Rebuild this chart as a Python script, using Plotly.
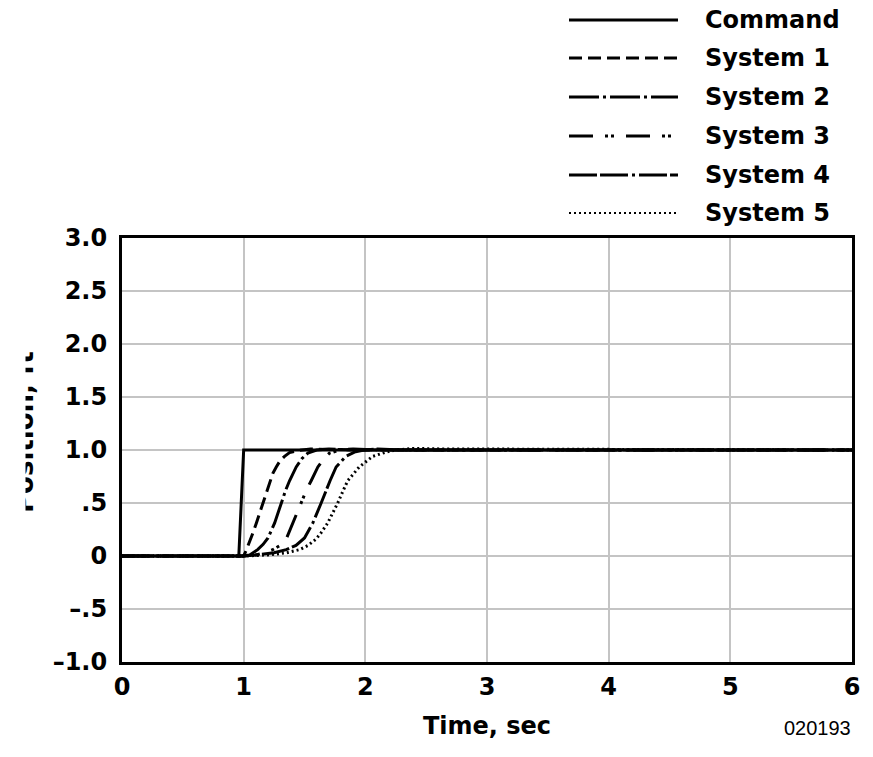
import plotly.graph_objects as go

# ---- data ----
cmd_t = [0.0, 0.96, 1.0, 6.0]
cmd_v = [0.0, 0.0, 1.0, 1.0]

s1_t = [0.0, 1.0, 1.02, 1.055, 1.08, 1.104, 1.13, 1.158, 1.185, 1.213, 1.24, 1.268, 1.30, 1.336, 1.377, 1.45, 1.55, 1.7, 2.0, 6.0]
s1_v = [0.0, 0.0, 0.05, 0.15, 0.23, 0.31, 0.40, 0.50, 0.61, 0.70, 0.78, 0.84, 0.90, 0.94, 0.975, 0.995, 1.01, 1.005, 1.0, 1.0]

s2_t = [0.0, 1.0, 1.05, 1.08, 1.115, 1.16, 1.2, 1.254, 1.309, 1.345, 1.377, 1.432, 1.48, 1.527, 1.6, 1.7, 1.9, 6.0]
s2_v = [0.0, 0.0, 0.01, 0.03, 0.06, 0.11, 0.17, 0.31, 0.50, 0.62, 0.71, 0.84, 0.92, 0.97, 1.0, 1.01, 1.0, 1.0]

s3_t = [0.0, 1.0, 1.1, 1.17, 1.24, 1.30, 1.35, 1.404, 1.473, 1.515, 1.555, 1.61, 1.66, 1.705, 1.79, 1.9, 2.1, 6.0]
s3_v = [0.0, 0.0, 0.01, 0.03, 0.06, 0.10, 0.16, 0.31, 0.50, 0.62, 0.71, 0.84, 0.92, 0.97, 1.0, 1.01, 1.0, 1.0]

s4_t = [0.0, 1.0, 1.1, 1.25, 1.35, 1.43, 1.5, 1.568, 1.637, 1.675, 1.71, 1.76, 1.84, 1.91, 1.99, 2.1, 2.3, 6.0]
s4_v = [0.0, 0.0, 0.01, 0.03, 0.06, 0.10, 0.17, 0.31, 0.50, 0.62, 0.71, 0.84, 0.94, 0.98, 1.0, 1.01, 1.0, 1.0]

s5_t = [0.0, 1.0, 1.2, 1.35, 1.46, 1.53, 1.595, 1.637, 1.69, 1.73, 1.773, 1.815, 1.855, 1.95, 2.06, 2.17, 2.25, 2.4, 2.63, 6.0]
s5_v = [0.0, 0.0, 0.01, 0.03, 0.06, 0.10, 0.16, 0.22, 0.31, 0.40, 0.50, 0.61, 0.71, 0.84, 0.94, 0.98, 1.0, 1.015, 1.01, 1.0]

names = ["Command", "System 1", "System 2", "System 3", "System 4", "System 5"]
series_t = [cmd_t, s1_t, s2_t, s3_t, s4_t, s5_t]
series_v = [cmd_v, s1_v, s2_v, s3_v, s4_v, s5_v]
dashes = ["solid", "13px,6px", "30px,4px,3px,4px", "24px,12px,3px,3px,3px,12px",
          "28px,3px,28px,4px,3px,4px", "2px,3px"]

x_ticks = [0, 1, 2, 3, 4, 5, 6]
y_ticks = [-1.0, -0.5, 0, 0.5, 1.0, 1.5, 2.0, 2.5, 3.0]
y_ticktext = ["\u20131.0", "\u2013.5", "0", ".5", "1.0", "1.5", "2.0", "2.5", "3.0"]

FONT = "DejaVu Sans, Arial, Helvetica, sans-serif"

fig = go.Figure()
# draw systems first, command on top
for i in [5, 4, 3, 2, 1, 0]:
    fig.add_trace(go.Scatter(
        x=series_t[i], y=series_v[i], mode="lines", name=names[i],
        line=dict(color="black", width=3, dash=dashes[i]),
        showlegend=False, hoverinfo="skip"))

# ---- manual legend (outside the plot area, in paper coords) ----
PL, PR, PT, PB = 122, 852, 238, 662
def px_x(p):
    return (p - PL) / (PR - PL)
def px_y(p):
    return (PB - p) / (PB - PT)

leg_rows = [20, 58, 97, 136, 175, 213]
for i, row in enumerate(leg_rows):
    fig.add_shape(type="line", xref="paper", yref="paper",
                  x0=px_x(569), x1=px_x(678), y0=px_y(row), y1=px_y(row),
                  line=dict(color="black", width=3 if i < 5 else 2, dash=dashes[i]))
    fig.add_annotation(xref="paper", yref="paper", x=px_x(703), y=px_y(row),
                       xanchor="left", yanchor="middle", showarrow=False,
                       text=names[i],
                       font=dict(family=FONT, size=24, color="black", weight="bold"))

# y-axis title (clipped on its left side, as in the reference)
fig.add_annotation(xref="paper", yref="paper", x=px_x(24), y=px_y(432),
                   xanchor="center", yanchor="middle", showarrow=False,
                   text="Position, ft", textangle=-90,
                   font=dict(family=FONT, size=26, color="black", weight="bold"))
fig.add_annotation(xref="paper", yref="paper", x=px_x(0), y=px_y(432),
                   xanchor="left", yanchor="middle", showarrow=False,
                   text=" ", width=22, height=260, bgcolor="white",
                   font=dict(size=10))

# figure number
fig.add_annotation(xref="paper", yref="paper", x=px_x(853), y=px_y(728),
                   xanchor="right", yanchor="middle", showarrow=False,
                   text="020193",
                   font=dict(family="Liberation Sans, Arial, sans-serif", size=20, color="black"))

fig.update_layout(
    width=873, height=757,
    margin=dict(l=PL, r=873 - PR, t=PT, b=757 - PB, autoexpand=False),
    paper_bgcolor="white", plot_bgcolor="white",
    showlegend=False,
    font=dict(family=FONT, color="black"),
    xaxis=dict(range=[0, 6], tickvals=x_ticks, ticktext=[str(v) for v in x_ticks],
               showgrid=True, gridcolor="#c4c4c4", gridwidth=2,
               showline=True, linecolor="black", linewidth=3, mirror=True,
               zeroline=False, ticks="", ticklabelstandoff=1,
               tickfont=dict(family=FONT, size=24, weight="bold"),
               title=dict(text="Time, sec", standoff=18,
                          font=dict(family=FONT, size=24, weight="bold"))),
    yaxis=dict(range=[-1, 3], tickvals=y_ticks, ticktext=y_ticktext,
               showgrid=True, gridcolor="#c4c4c4", gridwidth=2,
               showline=True, linecolor="black", linewidth=3, mirror=True,
               zeroline=False, ticks="", ticklabelstandoff=7,
               tickfont=dict(family=FONT, size=24, weight="bold")),
)

fig.write_html("out.html")
